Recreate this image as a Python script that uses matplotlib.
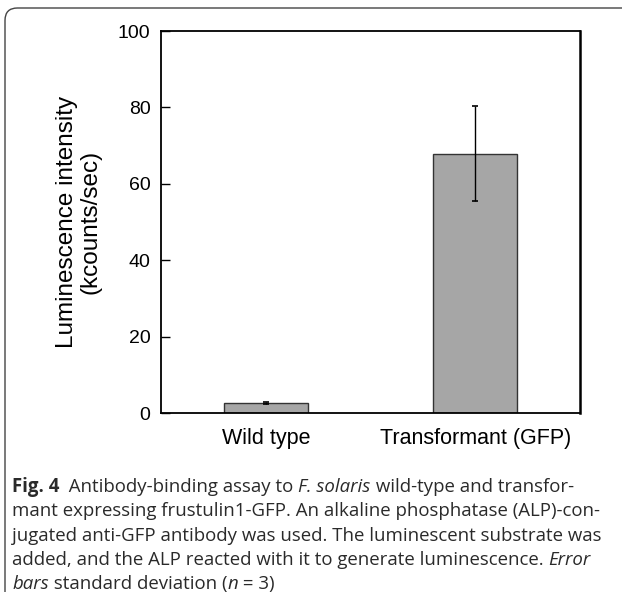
import matplotlib.pyplot as plt
from matplotlib.patches import FancyBboxPatch

# data
groepen = ["Wild type", "Transformant (GFP)"]
waarden = [2.7, 67.9]
fouten = [0.3, 12.4]
y_ticks = [0, 20, 40, 60, 80, 100]

# caption, per line as (text, style) segments
onderschrift = [
    [("Fig. 4", "bold"), ("  Antibody-binding assay to ", "normal"), ("F. solaris", "italic"),
     (" wild-type and transfor-", "normal")],
    [("mant expressing frustulin1-GFP. An alkaline phosphatase (ALP)-con-", "normal")],
    [("jugated anti-GFP antibody was used. The luminescent substrate was", "normal")],
    [("added, and the ALP reacted with it to generate luminescence. ", "normal"), ("Error", "italic")],
    [("bars", "italic"), (" standard deviation (", "normal"), ("n", "italic"), (" = 3)", "normal")],
]

W, H = 622, 592
fig = plt.figure(figsize=(W / 100, H / 100), dpi=100)

# open frame: only left and top line visible, rounded corner
frame = FancyBboxPatch((5 / W, -0.2), 2.0, 0.2 + 1 - 8 / H,
                       boxstyle="round,pad=0,rounding_size=0.02", transform=fig.transFigure,
                       facecolor="none", edgecolor="#444444", linewidth=1.0, mutation_aspect=W / H)
fig.patches.append(frame)

ax = fig.add_axes([161 / W, 1 - 413 / H, 419 / W, 382 / H])
x = range(len(groepen))
ax.bar(x, waarden, width=0.4, color="#a6a6a6", edgecolor="#333333", linewidth=1.0,
       yerr=fouten, error_kw=dict(ecolor="black", elinewidth=1.0, capsize=2.5, capthick=1.2))
ax.set_xlim(-0.5, 1.5)
ax.set_ylim(0, 100)
ax.set_yticks(y_ticks)
ax.set_xticks(list(x))
ax.set_xticklabels(groepen)
ax.tick_params(axis="y", direction="in", length=6.5, width=1.0, labelsize=14, pad=7.5)
ax.tick_params(axis="x", length=0, labelsize=15.5, pad=10.5)
for t in ax.get_yticklabels() + ax.get_xticklabels():
    t.set_family("Liberation Sans")
for s in ax.spines.values():
    s.set_linewidth(1.3)
ax.spines["right"].set_linewidth(1.8)
ax.set_ylabel("Luminescence intensity\n(kcounts/sec)", fontsize=17.5, family="Liberation Sans",
              labelpad=12, linespacing=1.1)

# caption text pieces placed one after another
renderer = fig.canvas.get_renderer()
y0 = 487
for regel in onderschrift:
    xpos = 12
    for tekst, stijl in regel:
        kw = dict(fontsize=13.4, family="Open Sans", va="center", ha="left", color="#2a2a2a")
        if stijl == "bold":
            kw["fontweight"] = "bold"
        if stijl == "italic":
            kw["fontstyle"] = "italic"
        t = fig.text(xpos / W, 1 - y0 / H, tekst, **kw)
        bb = t.get_window_extent(renderer)
        xpos += bb.width
    y0 += 24.3

fig.savefig("out.png", dpi=100)
